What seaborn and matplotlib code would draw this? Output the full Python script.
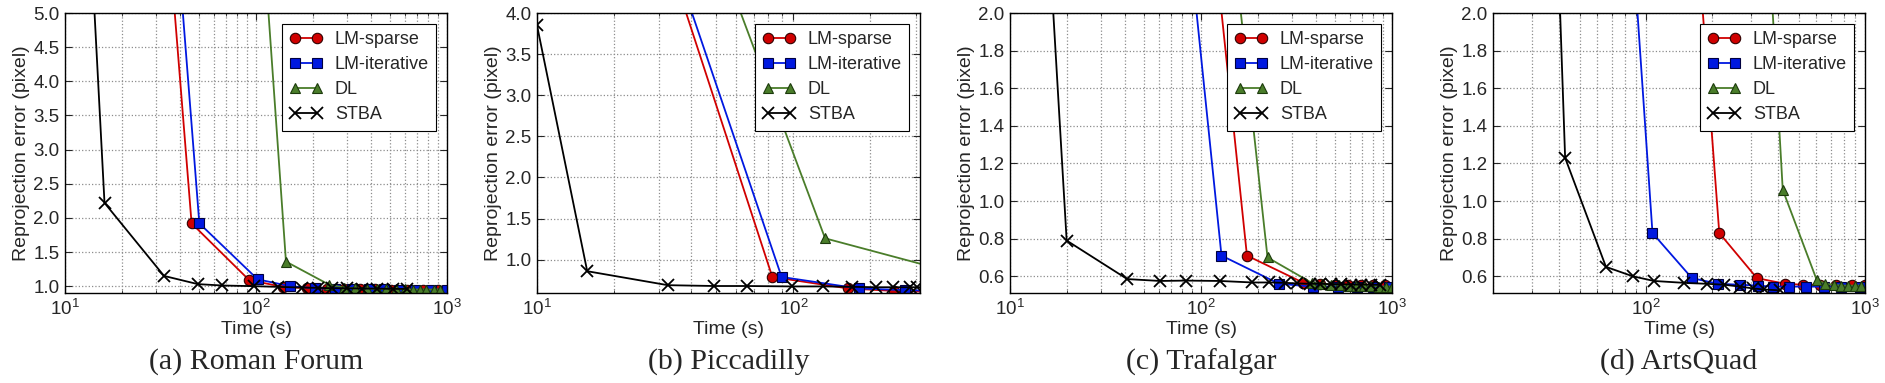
import matplotlib
matplotlib.use("Agg")
import matplotlib.pyplot as plt
import seaborn as sns

# (a) Roman Forum
rf_sparse_t = [27, 46, 92, 138, 184, 234, 290, 350, 420, 510, 620, 750, 900]
rf_sparse_e = [10, 1.92, 1.09, 0.99, 0.97, 0.96, 0.96, 0.955, 0.955, 0.95, 0.95, 0.95, 0.95]
rf_iter_t = [30, 50.5, 102, 151, 203, 260, 320, 390, 470, 560, 680, 820, 1000]
rf_iter_e = [10, 1.92, 1.10, 1.0, 0.97, 0.96, 0.96, 0.955, 0.955, 0.95, 0.95, 0.95, 0.95]
rf_dl_t = [87, 143.5, 242, 290, 330, 380, 430, 480, 540, 600, 660, 720, 780, 850, 920]
rf_dl_e = [10, 1.36, 1.02, 0.98, 0.97, 0.965, 0.96, 0.96, 0.955, 0.955, 0.95, 0.95, 0.95, 0.95, 0.95]
rf_stba_t = [11.5, 16.1, 33, 49.6, 66.4, 97.7, 130, 174, 210, 250, 300, 360, 430, 520, 620]
rf_stba_e = [10, 2.22, 1.15, 1.03, 1.01, 1.0, 0.99, 0.98, 0.975, 0.97, 0.97, 0.965, 0.965, 0.96, 0.96]

# (b) Piccadilly
pc_sparse_t = [30, 82.8, 164, 248, 340]
pc_sparse_e = [5.0, 0.79, 0.65, 0.62, 0.61]
pc_iter_t = [31.3, 90, 180, 273, 360]
pc_iter_e = [5.0, 0.79, 0.65, 0.63, 0.62]
pc_dl_t = [47.3, 133, 350]
pc_dl_e = [5.0, 1.26, 0.91]
pc_stba_t = [10, 15.7, 32.4, 49.2, 66.2, 98.4, 131, 170, 211, 244, 284, 305, 330]
pc_stba_e = [3.85, 0.86, 0.69, 0.68, 0.68, 0.675, 0.675, 0.67, 0.665, 0.665, 0.665, 0.665, 0.665]

# (c) Trafalgar
tf_sparse_t = [63, 174, 344, 420, 500, 590, 690, 800, 920]
tf_sparse_e = [5.0, 0.71, 0.565, 0.56, 0.555, 0.555, 0.555, 0.555, 0.555]
tf_iter_t = [47.2, 128, 256, 384, 524, 653, 800, 960]
tf_iter_e = [5.0, 0.71, 0.56, 0.545, 0.545, 0.545, 0.545, 0.545]
tf_dl_t = [77, 223, 380, 430, 480, 530, 590, 650, 710, 780, 850, 930, 1000]
tf_dl_e = [5.0, 0.70, 0.565, 0.56, 0.555, 0.555, 0.55, 0.55, 0.55, 0.55, 0.545, 0.545, 0.545]
tf_stba_t = [11.3, 19.8, 41.1, 61, 83.2, 125.6, 186, 228, 275, 320, 370, 420, 480, 540, 610, 690, 780, 870]
tf_stba_e = [5.0, 0.79, 0.585, 0.575, 0.577, 0.575, 0.567, 0.567, 0.565, 0.562, 0.56, 0.56,
             0.558, 0.558, 0.556, 0.556, 0.555, 0.555]

# (d) ArtsQuad
aq_sparse_t = [116.7, 216, 321, 432, 520, 620, 740, 870, 1000]
aq_sparse_e = [5.0, 0.83, 0.59, 0.56, 0.555, 0.555, 0.555, 0.555, 0.555]
aq_iter_t = [61, 107, 162, 214, 269, 324, 379, 450, 540, 650, 780, 950]
aq_iter_e = [5.0, 0.83, 0.59, 0.56, 0.555, 0.55, 0.545, 0.545, 0.545, 0.545, 0.545, 0.545]
aq_dl_t = [271, 421, 602, 660, 720, 780, 840, 900, 960]
aq_dl_e = [5.0, 1.06, 0.58, 0.56, 0.555, 0.55, 0.55, 0.55, 0.55]
aq_stba_t = [33, 42.7, 65.6, 86.9, 108.8, 149, 189, 227, 269, 309, 344, 407]
aq_stba_e = [5.0, 1.23, 0.65, 0.60, 0.575, 0.565, 0.56, 0.555, 0.545, 0.535, 0.53, 0.525]

captions = ["(a) Roman Forum", "(b) Piccadilly", "(c) Trafalgar", "(d) ArtsQuad"]
xlims = [(10, 1000), (10, 312), (10, 1000), (20, 1000)]
ylims = [(0.9, 5.0), (0.595, 4.0), (0.511, 2.0), (0.511, 2.0)]
yticks = [[1.0, 1.5, 2.0, 2.5, 3.0, 3.5, 4.0, 4.5, 5.0],
          [1.0, 1.5, 2.0, 2.5, 3.0, 3.5, 4.0],
          [0.6, 0.8, 1.0, 1.2, 1.4, 1.6, 1.8, 2.0],
          [0.6, 0.8, 1.0, 1.2, 1.4, 1.6, 1.8, 2.0]]

panels = [
    (rf_sparse_t, rf_sparse_e, rf_iter_t, rf_iter_e, rf_dl_t, rf_dl_e, rf_stba_t, rf_stba_e),
    (pc_sparse_t, pc_sparse_e, pc_iter_t, pc_iter_e, pc_dl_t, pc_dl_e, pc_stba_t, pc_stba_e),
    (tf_sparse_t, tf_sparse_e, tf_iter_t, tf_iter_e, tf_dl_t, tf_dl_e, tf_stba_t, tf_stba_e),
    (aq_sparse_t, aq_sparse_e, aq_iter_t, aq_iter_e, aq_dl_t, aq_dl_e, aq_stba_t, aq_stba_e),
]

sns.set_style("ticks")
plt.rcParams["font.family"] = ["Liberation Sans", "DejaVu Sans"]
plt.rcParams["mathtext.default"] = "regular"
plt.rcParams["xtick.direction"] = "in"
plt.rcParams["ytick.direction"] = "in"
plt.rcParams["xtick.top"] = True
plt.rcParams["ytick.right"] = True

fig = plt.figure(figsize=(18.85, 3.83), dpi=100)

boxes = [(65, 382), (537, 383), (1010, 382), (1493, 372)]

green = "#4a7d2a"
for i, (box, data) in enumerate(zip(boxes, panels)):
    left, width = box
    ax = fig.add_axes([left / 1885, 90 / 383, width / 1885, 280 / 383])
    st, se, it, ie, dt, de, bt, be = data
    sns.lineplot(x=st, y=se, ax=ax, color="#d00000", marker="o", markersize=7.5,
                 markeredgecolor="#300000", markeredgewidth=0.8, linewidth=1.3,
                 label="LM-sparse", sort=False)
    sns.lineplot(x=it, y=ie, ax=ax, color="#0018e0", marker="s", markersize=7.5,
                 markeredgecolor="#000040", markeredgewidth=0.8, linewidth=1.3,
                 label="LM-iterative", sort=False)
    sns.lineplot(x=dt, y=de, ax=ax, color=green, marker="^", markersize=7.5,
                 markeredgecolor="#1c3a0c", markeredgewidth=0.8, linewidth=1.3,
                 label="DL", sort=False)
    sns.lineplot(x=bt, y=be, ax=ax, color="black", marker="x", markersize=8,
                 markeredgecolor="black", markeredgewidth=1.3, linewidth=1.3,
                 label="STBA", sort=False)

    ax.set_xscale("log")
    ax.set_xlim(*xlims[i])
    ax.set_ylim(*ylims[i])
    ax.set_yticks(yticks[i])
    ax.set_yticklabels([f"{v:.1f}" for v in yticks[i]])
    ax.grid(True, which="major", color="0.55", linestyle=":", linewidth=0.9)
    ax.grid(True, which="minor", axis="x", color="0.55", linestyle=":", linewidth=0.9)
    ax.tick_params(which="both", labelsize=13.5, pad=4)
    ax.tick_params(which="major", length=5)
    ax.tick_params(which="minor", length=2.5)
    for sp in ax.spines.values():
        sp.set_color("black")
        sp.set_linewidth(1.0)
    ax.set_xlabel("Time (s)", fontsize=14, labelpad=2)
    ax.set_ylabel("Reprojection error (pixel)", fontsize=14, labelpad=2)
    leg = ax.legend(loc="upper right", numpoints=2, fontsize=13, fancybox=False,
                    framealpha=1, edgecolor="black", handlelength=1.8,
                    handletextpad=0.7, borderaxespad=0.6, labelspacing=0.45)
    leg.get_frame().set_linewidth(0.8)
    fig.text((left + width / 2) / 1885, 21 / 383, captions[i], ha="center", va="center",
             fontsize=21.5, family=["Liberation Serif", "DejaVu Serif"])

fig.savefig("out.png", dpi=100)
